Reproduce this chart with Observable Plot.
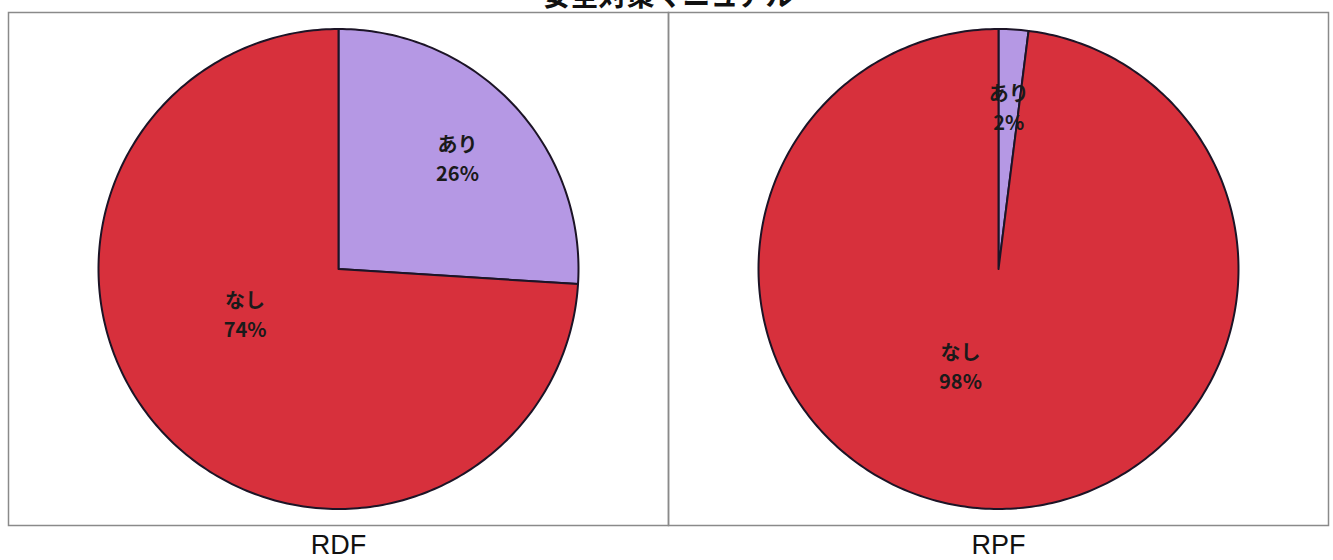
<!DOCTYPE html>
<html><head><meta charset="utf-8">
<script src="https://cdn.jsdelivr.net/npm/d3@7"></script>
<script src="https://cdn.jsdelivr.net/npm/@observablehq/plot@0.6"></script>
<style>
body{margin:0;background:#fff;width:1333px;height:560px;overflow:hidden;position:relative;font-family:"Noto Sans CJK JP","Noto Sans",sans-serif}
#title{position:absolute;left:0;width:1336px;top:-22px;text-align:center;font-size:28px;font-weight:bold;color:#111;line-height:1.2}
#chart{position:absolute;left:0;top:0}
</style></head><body>
<div id="chart"></div>
<div id="title"></div>
<script>
const title = "安全対策マニュアル";
const facilities = ["RDF", "RPF"];
const categories = ["あり", "なし"];
const rdfValues = [26, 74];
const rpfValues = [2, 98];
const colors = ["#b598e4", "#d7303c"];

document.getElementById("title").textContent = title;

const W = 1333, H = 560;
const margin = {top: 12, right: 5, bottom: 35, left: 8};
const R = 240; // pie radius in px
const facetW = (W - margin.left - margin.right) / 2;
const facetH = H - margin.top - margin.bottom;
const kx = facetW / 2 / R, ky = facetH / 2 / R;

const valuesByFacility = {RDF: rdfValues, RPF: rpfValues};
const pie = d3.pie().sort(null);
const slices = [], labels = [];
for (const f of facilities) {
  const vals = valuesByFacility[f];
  const total = d3.sum(vals);
  pie(vals).forEach((s, i) => {
    const key = f + "-" + categories[i];
    const n = Math.max(2, Math.ceil((s.endAngle - s.startAngle) / (2 * Math.PI) * 360));
    slices.push({fx: f, key, cat: categories[i], x: 0, y: 0});
    for (let j = 0; j <= n; j++) {
      const a = s.startAngle + (s.endAngle - s.startAngle) * j / n;
      slices.push({fx: f, key, cat: categories[i], x: Math.sin(a), y: Math.cos(a)});
    }
    const share = vals[i] / total;
    let mid = (s.startAngle + s.endAngle) / 2;
    let r = 0.68;
    if (share > 0.5) { mid += 18 * Math.PI / 180; r = 0.43; }
    labels.push({fx: f, x: r * Math.sin(mid), y: r * Math.cos(mid),
      text: categories[i] + "\n" + Math.round(share * 100) + "%"});
  });
}

const chart = Plot.plot({
  width: W, height: H,
  marginTop: margin.top, marginRight: margin.right, marginBottom: margin.bottom, marginLeft: margin.left,
  style: {fontFamily: '"Noto Sans CJK JP","Noto Sans",sans-serif', background: "#fff"},
  fx: {domain: facilities, padding: 0, label: null},
  x: {domain: [-kx, kx], axis: null},
  y: {domain: [-ky, ky], axis: null},
  color: {domain: categories, range: colors},
  marks: [
    Plot.frame({stroke: "#8a8a8a", strokeWidth: 1.5}),
    Plot.line(slices, {x: "x", y: "y", z: "key", fx: "fx", fill: "cat", stroke: "#1c1426", strokeWidth: 2, curve: "linear-closed"}),
    Plot.text(labels, {x: "x", y: "y", fx: "fx", text: "text", fontSize: 20, lineHeight: 1.45, fill: "#1a1a1a", fontWeight: "bold"}),
    Plot.axisFx({anchor: "bottom", tickSize: 0, tickPadding: 9, fontSize: 27, label: null, fontFamily: '"Liberation Sans",Arial,sans-serif', fill: "#111"})
  ]
});
document.getElementById("chart").appendChild(chart);
</script>
</body></html>
